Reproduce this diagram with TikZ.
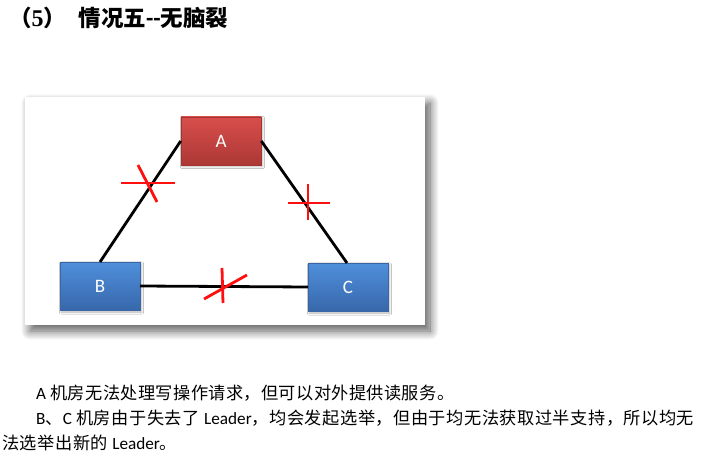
\documentclass[tikz,border=0pt]{standalone}
\usepackage{fontspec}
\setmainfont{Noto Sans CJK SC}
\newfontfamily\lat{Carlito}
\newfontfamily\ser{Liberation Serif}
\usetikzlibrary{shadows.blur}
\definecolor{redtop}{HTML}{D84E4B}
\definecolor{redbot}{HTML}{AC3836}
\definecolor{redbd}{HTML}{A03532}
\definecolor{bluetop}{HTML}{4F8FDA}
\definecolor{bluebot}{HTML}{3767AB}
\definecolor{bluebd}{HTML}{3A67A3}
\definecolor{cutred}{HTML}{FF1010}
\tikzset{
  room/.style={rectangle, minimum width=80pt, minimum height=48pt, inner sep=0pt,
    text=white, font=\lat\fontsize{19}{19}\selectfont, line width=0.6pt,
    blur shadow={shadow xshift=1.5pt, shadow yshift=-1.5pt, shadow blur steps=4, shadow opacity=30}},
  redroom/.style={room, top color=redtop, bottom color=redbot, draw=redbd},
  blueroom/.style={room, top color=bluetop, bottom color=bluebot, draw=bluebd},
  link/.style={line width=2.8pt, black},
  cut/.style={line width=2.8pt, cutred, line cap=butt},
  para/.style={anchor=base west, inner sep=0pt, font=\fontsize{17.2}{20}\selectfont},
}
\begin{document}
\begin{tikzpicture}[x=1pt,y=-1pt]
\useasboundingbox (0,0) rectangle (702,457);
% title
\node[anchor=base west, inner sep=0pt, font=\bfseries\fontsize{22.5}{24}\selectfont] (title) at (9,27)
  {（{\ser\bfseries\fontsize{24}{24}\selectfont 5}）\hspace{0.55em}情况五{\lat\bfseries\fontsize{24}{24}\selectfont --}无脑裂};
% panel
\node[rectangle, fill=white, minimum width=400pt, minimum height=228pt, inner sep=0pt,
  blur shadow={shadow xshift=5pt, shadow yshift=-6pt, shadow blur steps=14, shadow blur radius=9pt, shadow opacity=65}]
  (panel) at (225,211) {};
% rooms
\node[redroom] (A) at (221,141) {A};
\node[blueroom] (B) at (100,286.5) {B};
\node[blueroom] (C) at (348,287.5) {C};
% links
\coordinate (Bt) at (100,262);
\coordinate (Cb) at (347,263);
\coordinate (Bl) at (140,286);
\coordinate (Cl) at (308,287);
\draw[link] (A.west) -- (Bt);
\draw[link] (A.east) -- (Cb);
\draw[link] (Bl) -- (Cl);
% cuts
\coordinate (x1a) at (121,183); \coordinate (x1b) at (175,183);
\coordinate (x1c) at (138,165); \coordinate (x1d) at (157,202);
\draw[cut] (x1a) -- (x1b); \draw[cut] (x1c) -- (x1d);
\coordinate (x2a) at (288,203); \coordinate (x2b) at (330,203);
\coordinate (x2c) at (308,184); \coordinate (x2d) at (308,220);
\draw[cut] (x2a) -- (x2b); \draw[cut] (x2c) -- (x2d);
\coordinate (x3a) at (222,268); \coordinate (x3b) at (223,303);
\coordinate (x3c) at (204,299); \coordinate (x3d) at (247,275);
\draw[cut] (x3a) -- (x3b); \draw[cut] (x3c) -- (x3d);
% text
\node[para] (l1) at (36,399) {\addfontfeature{LetterSpace=2.2}{\lat A} 机房无法处理写操作请求，但可以对外提供读服务。};
\node[para] (l2) at (36,424) {\addfontfeature{LetterSpace=3}{\lat B}、{\lat C} 机房由于失去了 {\lat Leader}，均会发起选举，但由于均无法获取过半支持，所以均无};
\node[para] (l3) at (2,449) {\addfontfeature{LetterSpace=3}法选举出新的 {\lat Leader}。};
\end{tikzpicture}
\end{document}
